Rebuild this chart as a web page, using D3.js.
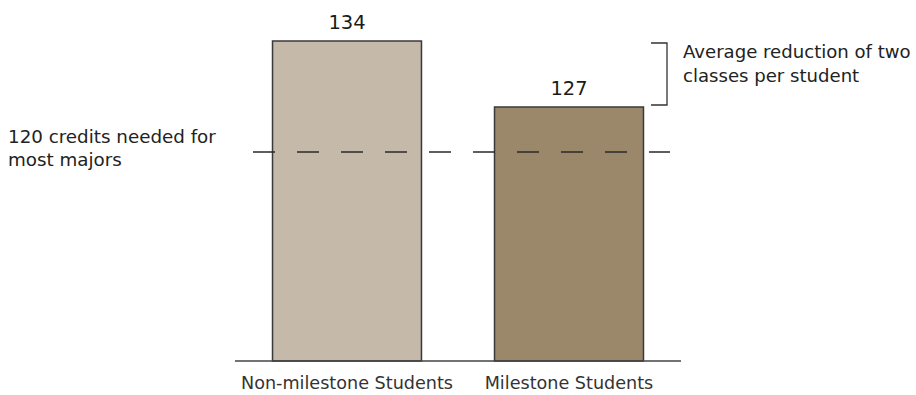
<!DOCTYPE html>
<html>
<head>
<meta charset="utf-8">
<script src="https://cdn.jsdelivr.net/npm/d3@7"></script>
<style>
  html, body { margin: 0; padding: 0; background: #fff; }
  svg { display: block; font-family: "DejaVu Sans", sans-serif; }
</style>
</head>
<body>
<svg id="chart" width="916" height="395"></svg>
<script>
// ---- data ----
const categories = ["Non-milestone Students", "Milestone Students"];
const credits = [134, 127];
const barColors = ["#c5b9a9", "#9b886b"];
const threshold = 120;
const thresholdLabel = ["120 credits needed for", "most majors"];
const bracketLabel = ["Average reduction of two", "classes per student"];
// the chart's vertical axis is not drawn to a linear scale; these are the
// reference values that anchor the (unlabelled) value axis
const yAnchors = [100, 120, 127, 134];

// ---- layout ----
const svg = d3.select("#chart");
const x = d3.scaleBand().domain(categories).range([235, 681])
  .paddingInner(0.329).paddingOuter(0.169);
const y = d3.scaleLinear().domain(yAnchors).range([361, 152, 107, 41]);
const baseY = y(yAnchors[0]);

// bars
svg.selectAll("rect.bar").data(categories).join("rect")
  .attr("class", "bar")
  .attr("x", d => x(d))
  .attr("width", x.bandwidth())
  .attr("y", (d, i) => y(credits[i]))
  .attr("height", (d, i) => baseY - y(credits[i]))
  .attr("fill", (d, i) => barColors[i])
  .attr("stroke", "#3a3a3a")
  .attr("stroke-width", 1.5);

// baseline axis
svg.append("line")
  .attr("x1", x.range()[0]).attr("x2", x.range()[1])
  .attr("y1", baseY).attr("y2", baseY)
  .attr("stroke", "#444").attr("stroke-width", 1.5);

// threshold dashed line
svg.append("line")
  .attr("x1", 253).attr("x2", 670)
  .attr("y1", y(threshold)).attr("y2", y(threshold))
  .attr("stroke", "#2a2a2a").attr("stroke-width", 1.5)
  .attr("stroke-dasharray", "22,22");

// value labels
svg.selectAll("text.val").data(categories).join("text")
  .attr("class", "val")
  .attr("x", d => x(d) + x.bandwidth() / 2)
  .attr("y", (d, i) => y(credits[i]) - 12)
  .attr("text-anchor", "middle")
  .attr("font-size", 19.5)
  .attr("fill", "#1a1a1a")
  .text((d, i) => credits[i]);

// category labels
svg.selectAll("text.cat").data(categories).join("text")
  .attr("class", "cat")
  .attr("x", d => x(d) + x.bandwidth() / 2)
  .attr("y", baseY + 28)
  .attr("text-anchor", "middle")
  .attr("font-size", 17.6)
  .attr("fill", "#333")
  .text(d => d);

// threshold annotation
svg.append("text")
  .attr("x", 8).attr("y", y(threshold) - 9)
  .attr("font-size", 18.3).attr("fill", "#222")
  .selectAll("tspan").data(thresholdLabel).join("tspan")
  .attr("x", 8).attr("dy", (d, i) => i ? 23 : 0)
  .text(d => d);

// bracket
const bTop = y(credits[0]) + 2, bBot = y(credits[1]) - 2;
svg.append("path")
  .attr("d", `M651,${bTop}H667V${bBot}H651`)
  .attr("fill", "none").attr("stroke", "#333").attr("stroke-width", 1.3);

svg.append("text")
  .attr("x", 683).attr("y", 58)
  .attr("font-size", 18.1).attr("fill", "#222")
  .selectAll("tspan").data(bracketLabel).join("tspan")
  .attr("x", 683).attr("dy", (d, i) => i ? 24 : 0)
  .text(d => d);
</script>
</body>
</html>
